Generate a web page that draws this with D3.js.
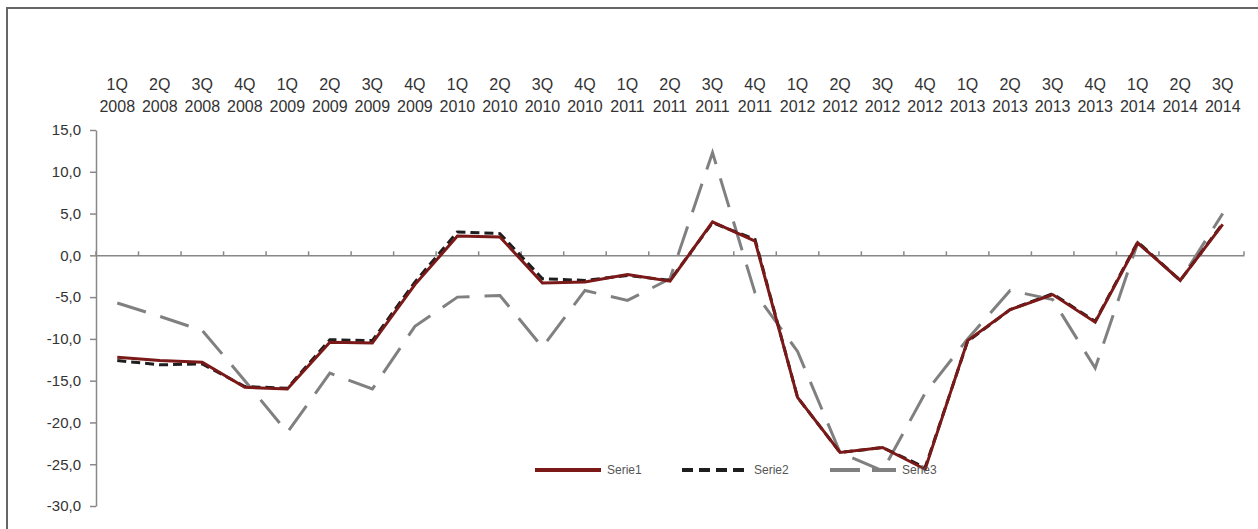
<!DOCTYPE html>
<html>
<head>
<meta charset="utf-8">
<script src="https://cdn.jsdelivr.net/npm/d3@7"></script>
<style>
  body { margin: 0; background: #fff; overflow: hidden; }
  svg { display: block; font-family: "Liberation Sans", Arial, sans-serif; }
</style>
</head>
<body>
<svg width="1258" height="529"></svg>
<script>
// quarters shown along the top
var quarters = ["1Q","2Q","3Q","4Q","1Q","2Q","3Q","4Q","1Q","2Q","3Q","4Q","1Q","2Q",
                "3Q","4Q","1Q","2Q","3Q","4Q","1Q","2Q","3Q","4Q","1Q","2Q","3Q"];
var years = ["2008","2008","2008","2008","2009","2009","2009","2009","2010","2010","2010","2010",
             "2011","2011","2011","2011","2012","2012","2012","2012","2013","2013","2013","2013",
             "2014","2014","2014"];
var yTicks = [15, 10, 5, 0, -5, -10, -15, -20, -25, -30];

var serie1 = [-12.2,-12.6,-12.8,-15.8,-16.0,-10.4,-10.5,-3.5,2.3,2.2,-3.3,-3.2,-2.3,-3.1,
              4.0,1.7,-17.0,-23.6,-23.0,-25.6,-10.2,-6.5,-4.7,-8.0,1.5,-3.0,3.7];
var serie2 = [-12.6,-13.1,-13.0,-15.7,-15.9,-10.1,-10.2,-3.2,2.8,2.6,-2.8,-3.0,-2.4,-3.0,
              3.9,1.9,-17.0,-23.6,-23.0,-25.4,-10.3,-6.5,-4.6,-7.9,1.6,-3.0,3.8];
var serie3 = [-5.7,-7.3,-9.0,-15.0,-21.2,-14.1,-16.0,-8.5,-5.0,-4.8,-11.0,-4.2,-5.4,-2.8,
              12.3,-4.5,-11.5,-23.6,-25.8,-16.5,-10.0,-4.2,-5.3,-13.5,1.5,-3.0,5.0];

var svg = d3.select("svg");

// outer frame (only left and top edges fall inside the picture)
svg.append("rect")
  .attr("x", 7).attr("y", 8)
  .attr("width", 1300).attr("height", 600)
  .attr("fill", "none")
  .attr("stroke", "#666")
  .attr("stroke-width", 2);

var labels = quarters.map(function(q, i) { return q + " " + years[i]; });

var x = d3.scaleBand()
  .domain(labels)
  .range([96, 1244]);

var y = d3.scaleLinear()
  .domain([-30, 15])
  .range([506, 130]);

// y axis
var yAxis = svg.append("g")
  .attr("transform", "translate(96,0)")
  .call(d3.axisLeft(y).tickValues(yTicks).tickSize(6).tickSizeOuter(0)
    .tickFormat(function(d) { return d3.format(".1f")(d).replace(".", ",").replace("−", "-"); }));
yAxis.select(".domain").attr("stroke", "#888").attr("stroke-width", 1.5);
yAxis.selectAll(".tick line").attr("stroke", "#888").attr("stroke-width", 1.5);
yAxis.selectAll(".tick text")
  .attr("fill", "#333")
  .attr("font-size", 15)
  .attr("x", -15)
  .style("font-family", "'Liberation Sans', Arial, sans-serif");

// x axis on the zero line, ticks pointing up
var xAxis = svg.append("g")
  .attr("transform", "translate(0," + y(0) + ")")
  .call(d3.axisTop(x).tickSize(0).tickFormat(""));
xAxis.select(".domain").attr("stroke", "#888").attr("stroke-width", 1.5);
xAxis.selectAll(".tick").remove();
xAxis.selectAll(".bt")
  .data(d3.range(labels.length + 1))
  .enter().append("line")
    .attr("class", "bt")
    .attr("x1", function(i) { return x.range()[0] + i * x.bandwidth(); })
    .attr("x2", function(i) { return x.range()[0] + i * x.bandwidth(); })
    .attr("y1", 0).attr("y2", -4)
    .attr("stroke", "#888").attr("stroke-width", 1.5);

// category labels at the top
var cat = svg.append("g")
  .attr("fill", "#333")
  .attr("font-size", 16)
  .attr("text-anchor", "middle");
cat.selectAll(".q")
  .data(labels)
  .enter().append("text")
    .attr("x", function(d) { return x(d) + x.bandwidth() / 2; })
    .attr("y", 90)
    .text(function(d, i) { return quarters[i]; });
cat.selectAll(".yr")
  .data(labels)
  .enter().append("text")
    .attr("x", function(d) { return x(d) + x.bandwidth() / 2; })
    .attr("y", 112)
    .text(function(d, i) { return years[i]; });

var line = d3.line()
  .x(function(d, i) { return x(labels[i]) + x.bandwidth() / 2; })
  .y(function(d) { return y(d); });

var series = [
  {name: "Serie1", values: serie1, color: "#7b1818", dash: null},
  {name: "Serie2", values: serie2, color: "#1e1e1e", dash: "9,5"},
  {name: "Serie3", values: serie3, color: "#808080", dash: "30,15"}
];

// draw grey first so red/black are on top
[series[2], series[1], series[0]].forEach(function(s) {
  svg.append("path")
    .datum(s.values)
    .attr("fill", "none")
    .attr("stroke", s.color)
    .attr("stroke-width", 3)
    .attr("stroke-dasharray", s.dash)
    .attr("d", line);
});

// legend
var legX = [535, 682, 830];
var legend = svg.append("g")
  .selectAll("g")
  .data(series)
  .enter().append("g")
    .attr("transform", function(d, i) { return "translate(" + legX[i] + ",470)"; });

legend.append("line")
  .attr("x1", 0).attr("x2", 66)
  .attr("stroke", function(d) { return d.color; })
  .attr("stroke-width", 4)
  .attr("stroke-dasharray", function(d) { return d.name == "Serie2" ? "11,6" : (d.name == "Serie3" ? "30,12" : null); });

legend.append("text")
  .attr("x", 72)
  .attr("dy", "0.35em")
  .attr("font-size", 12)
  .attr("fill", "#555")
  .text(function(d) { return d.name; });
</script>
</body>
</html>
